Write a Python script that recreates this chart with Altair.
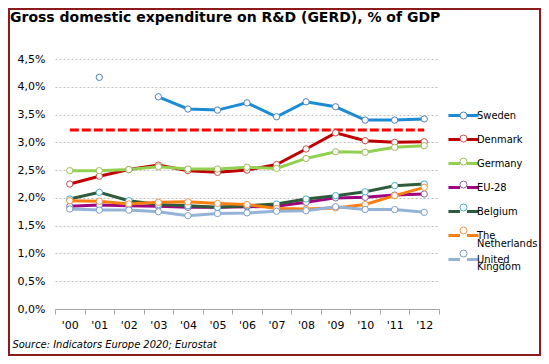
import altair as alt
import pandas as pd

years = ["'00", "'01", "'02", "'03", "'04", "'05", "'06", "'07", "'08", "'09", "'10", "'11", "'12"]
series_names = ["Sweden", "Denmark", "Germany", "EU-28", "Belgium", "The Netherlands", "United Kingdom"]

sweden = [None, 4.17, None, 3.82, 3.60, 3.58, 3.71, 3.46, 3.73, 3.64, 3.40, 3.40, 3.42]
denmark = [2.25, 2.39, 2.51, 2.59, 2.49, 2.46, 2.50, 2.60, 2.88, 3.17, 3.03, 3.00, 3.01]
germany = [2.49, 2.49, 2.51, 2.56, 2.52, 2.52, 2.55, 2.53, 2.71, 2.83, 2.82, 2.91, 2.94]
eu28 = [1.85, 1.87, 1.86, 1.85, 1.83, 1.83, 1.84, 1.85, 1.92, 2.00, 2.01, 2.05, 2.07]
belgium = [1.98, 2.10, 1.95, 1.88, 1.86, 1.83, 1.86, 1.89, 1.98, 2.04, 2.11, 2.22, 2.25]
netherlands = [1.95, 1.94, 1.89, 1.92, 1.93, 1.90, 1.88, 1.81, 1.80, 1.82, 1.88, 2.04, 2.19]
uk = [1.80, 1.78, 1.78, 1.75, 1.68, 1.72, 1.73, 1.76, 1.77, 1.84, 1.79, 1.79, 1.74]
target = [3.22, 3.22, 3.22, 3.22, 3.22, 3.22, 3.22, 3.22, 3.22, 3.22, 3.22, 3.22, 3.22]

y_ticks = [0, 0.5, 1.0, 1.5, 2.0, 2.5, 3.0, 3.5, 4.0, 4.5]

line_colors = ["#1B8BD5", "#C00000", "#92D050", "#A0057F", "#2E5C3A", "#F97F0F", "#95B3D7"]
marker_colors = ["#4F81BD", "#C0504D", "#9BBB59", "#8064A2", "#4BACC6", "#F79646", "#7A9CC6"]

# legend labels: first line and wrapped second line
label_line1 = ["Sweden", "Denmark", "Germany", "EU-28", "Belgium", "The", "United"]
label_line2 = ["", "", "", "", "", "Netherlands", "Kingdom"]

marker_keys = ["m:" + s for s in series_names]
wrap_keys = ["k:" + s for s in series_names]

all_series = [sweden, denmark, germany, eu28, belgium, netherlands, uk]
rows = []
for i, (name, vals) in enumerate(zip(series_names, all_series)):
    for yr, v in zip(years, vals):
        rows.append({"year": yr, "series": name, "marker": marker_keys[i], "wrap": wrap_keys[i],
                     "value": v, "order": i})
df = pd.DataFrame(rows)
df_target = pd.DataFrame({"year": years, "value": target})

FONT = "DejaVu Sans"
FONT_C = "'DejaVu Sans Condensed', 'DejaVu Sans'"


def js_map(keys, labels):
    expr = "''"
    for k, lab in zip(keys, labels):
        expr = "datum.label == '%s' ? '%s' : (%s)" % (k, lab, expr)
    return expr


x_enc = alt.X(
    "year:N", sort=years, bandPosition=0.5,
    scale=alt.Scale(type="band", domain=years, paddingInner=0, paddingOuter=0),
    axis=alt.Axis(
        labelAngle=0, labelFont=FONT, labelFontSize=11, labelColor="#000000", labelPadding=5,
        domainColor="#A6A6A6", tickColor="#A6A6A6", tickSize=5, tickBand="extent", grid=False,
        title="Source: Indicators Europe 2020; Eurostat", titleFont=FONT_C, titleFontSize=11,
        titleFontStyle="italic", titleFontWeight="normal", titleColor="#000000",
        titleAnchor="start", titleAlign="left", titleBaseline="alphabetic", titleX=-43, titleY=38,
    ),
)
y_enc = alt.Y(
    "value:Q",
    scale=alt.Scale(domain=[0, 4.5], nice=False, zero=True),
    axis=alt.Axis(
        values=y_ticks, labelExpr="replace(format(datum.value, '.1f'), '.', ',') + '%'",
        title=None, domain=False, ticks=False, grid=True, gridDash=[2, 2], gridColor="#BFBFBF",
        labelPadding=10, labelFont=FONT, labelFontSize=11, labelColor="#000000",
    ),
)

target_layer = alt.Chart(df_target).mark_line(
    color="#FF0000", strokeWidth=3, strokeDash=[9, 3]
).encode(x=x_enc, y=y_enc)

LEG_X = 403
LEG_Y = 51
ROW_PAD = 11
common = dict(orient="none", legendX=LEG_X, title=None, padding=0, symbolSize=49,
              labelFont=FONT_C, labelFontSize=11, labelOffset=8, labelBaseline="middle",
              labelLimit=200, rowPadding=ROW_PAD)

line_layer = alt.Chart(df).mark_line(
    strokeWidth=3, invalid="break-paths-filter-domains"
).encode(
    x=x_enc, y=y_enc,
    color=alt.Color(
        "series:N",
        scale=alt.Scale(domain=series_names, range=line_colors),
        legend=alt.Legend(
            legendY=LEG_Y, symbolType="M-4.3,0H-1M1,0H4.3", symbolStrokeWidth=3,
            labelColor="#000000", labelExpr=js_map(series_names, label_line1), **common,
        ),
    ),
    order=alt.Order("order:Q"),
)

point_layer = alt.Chart(df).mark_point(
    filled=True, fill="white", size=40, strokeWidth=1, opacity=1
).encode(
    x=x_enc, y=y_enc,
    stroke=alt.Stroke(
        "marker:N",
        scale=alt.Scale(domain=marker_keys, range=marker_colors),
        legend=alt.Legend(
            legendY=LEG_Y, symbolType="circle", symbolStrokeWidth=1, symbolFillColor="white",
            symbolOpacity=1, labelColor="transparent", labelExpr="' '", **common,
        ),
    ),
)

# invisible layer that only carries the wrapped second lines of the legend labels
wrap_layer = alt.Chart(df).mark_point(opacity=0, size=40).encode(
    x=x_enc, y=y_enc,
    shape=alt.Shape(
        "wrap:N",
        scale=alt.Scale(domain=wrap_keys, range=["circle"] * len(wrap_keys)),
        legend=alt.Legend(
            legendY=LEG_Y + 13.5, symbolOpacity=0, symbolStrokeWidth=3,
            symbolStrokeColor="transparent", symbolFillColor="transparent",
            labelColor="#000000", labelExpr=js_map(wrap_keys, label_line2), **common,
        ),
    ),
)

border = alt.Chart(pd.DataFrame({"a": [0]})).mark_rect(
    fillOpacity=0, stroke="#8C1C1C", strokeWidth=2
).encode(x=alt.value(-46), x2=alt.value(485), y=alt.value(-50), y2=alt.value(296))

chart = alt.layer(wrap_layer, target_layer, line_layer, point_layer, border).properties(
    width=384, height=250,
    autosize="none",
    padding={"left": 47, "top": 51, "right": 102, "bottom": 47},
    title=alt.TitleParams(
        "Gross domestic expenditure  on R&D (GERD), % of GDP",
        anchor="start", frame="group", font=FONT, fontSize=14, fontWeight="bold",
        color="#000000", dx=-45, dy=21, offset=4,
    ),
).configure_view(strokeWidth=0)

chart.save("out.html", embed_options={"renderer": "svg", "actions": False})
